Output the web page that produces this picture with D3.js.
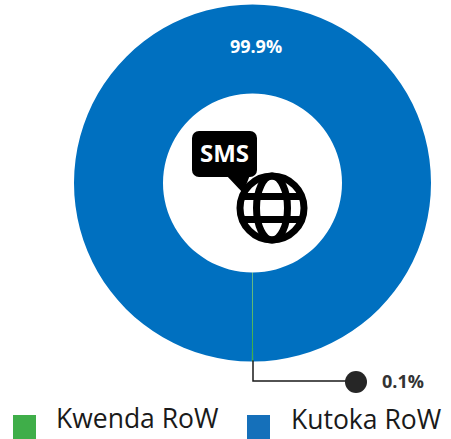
<!DOCTYPE html>
<html>
<head>
<meta charset="utf-8">
<script src="https://cdn.jsdelivr.net/npm/d3@7"></script>
<style>
  html, body { margin: 0; padding: 0; background: #fff; }
  text { font-family: "Open Sans", sans-serif; }
</style>
</head>
<body>
<div id="chart"></div>
<script>
var categories = ["Kwenda RoW", "Kutoka RoW"];
var values = [0.1, 99.9];
var valueLabels = ["0.1%", "99.9%"];
var colors = ["#3fae49", "#0070c0"];
var legendColors = ["#3fae49", "#1570ba"];

var svgWidth = 451;
var svgHeight = 439;
var cx = 252.5;
var cy = 183;
var outerR = 178.5;
var innerR = 89.5;

var svg = d3.select("#chart")
    .append("svg")
    .attr("width", svgWidth)
    .attr("height", svgHeight)
    .style("display", "block");

var donut = svg.append("g")
    .attr("transform", `translate(${cx}, ${cy})`);

// small slice has to sit right at 6 o'clock
var smallAngle = values[0] / d3.sum(values) * 2 * Math.PI;
var pie = d3.pie()
    .sort(null)
    .startAngle(Math.PI - smallAngle / 2)
    .endAngle(3 * Math.PI - smallAngle / 2);

var arc = d3.arc().innerRadius(innerR).outerRadius(outerR);

// big slice first so the thin one stays on top
donut.selectAll("path")
    .data(pie(values).reverse())
    .enter()
    .append("path")
    .attr("d", arc)
    .attr("fill", d => colors[d.index]);

// big slice label
svg.append("text")
    .attr("x", 256)
    .attr("y", 53)
    .attr("text-anchor", "middle")
    .attr("font-size", 18)
    .attr("font-weight", 700)
    .attr("fill", "#fff")
    .text(valueLabels[1]);

// leader line for the small slice
var leaderY = 381;
var dotX = 356;
svg.append("path")
    .attr("d", d3.line()([[cx + 0.5, cy + outerR - 1], [cx + 0.5, leaderY], [dotX, leaderY]]))
    .attr("fill", "none")
    .attr("stroke", "#1a1a1a")
    .attr("stroke-width", 1.5);

svg.append("circle")
    .attr("cx", dotX)
    .attr("cy", leaderY + 1)
    .attr("r", 11)
    .attr("fill", "#262626");

svg.append("text")
    .attr("x", 382)
    .attr("y", 388)
    .attr("font-size", 18)
    .attr("font-weight", 700)
    .attr("fill", "#333")
    .text(valueLabels[0]);

// legend
var legendX = d3.scaleOrdinal().domain(categories).range([13, 247]);
var legend = svg.selectAll("g.legend")
    .data(categories)
    .enter()
    .append("g")
    .attr("class", "legend")
    .attr("transform", d => `translate(${legendX(d)}, 415)`);

legend.append("rect")
    .attr("width", 23)
    .attr("height", 24)
    .attr("fill", (d, i) => legendColors[i]);

legend.append("text")
    .attr("x", (d, i) => i === 0 ? 43 : 44)
    .attr("y", (d, i) => i === 0 ? 13 : 14)
    .attr("font-size", 26.5)
    .attr("fill", "#1a1a1a")
    .text(d => d);

// SMS + globe icon
var icon = svg.append("g");

icon.append("rect")
    .attr("x", 192)
    .attr("y", 131)
    .attr("width", 65)
    .attr("height", 46)
    .attr("rx", 7)
    .attr("fill", "#000");

icon.append("path")
    .attr("d", "M226,175L243,193L250,175Z")
    .attr("fill", "#000");

icon.append("text")
    .attr("x", 224.5)
    .attr("y", 162)
    .attr("text-anchor", "middle")
    .attr("font-size", 24)
    .attr("font-weight", 700)
    .attr("fill", "#fff")
    .text("SMS");

var globe = icon.append("g")
    .attr("transform", "translate(272, 208)")
    .attr("fill", "none")
    .attr("stroke", "#000")
    .attr("stroke-width", 7);

globe.append("circle")
    .attr("r", 32)
    .attr("fill", "#fff");

globe.append("ellipse")
    .attr("rx", 15.5)
    .attr("ry", 32);

globe.selectAll("line")
    .data([-11.5, 11.5])
    .enter()
    .append("line")
    .attr("x1", -31)
    .attr("x2", 31)
    .attr("y1", d => d)
    .attr("y2", d => d);
</script>
</body>
</html>
